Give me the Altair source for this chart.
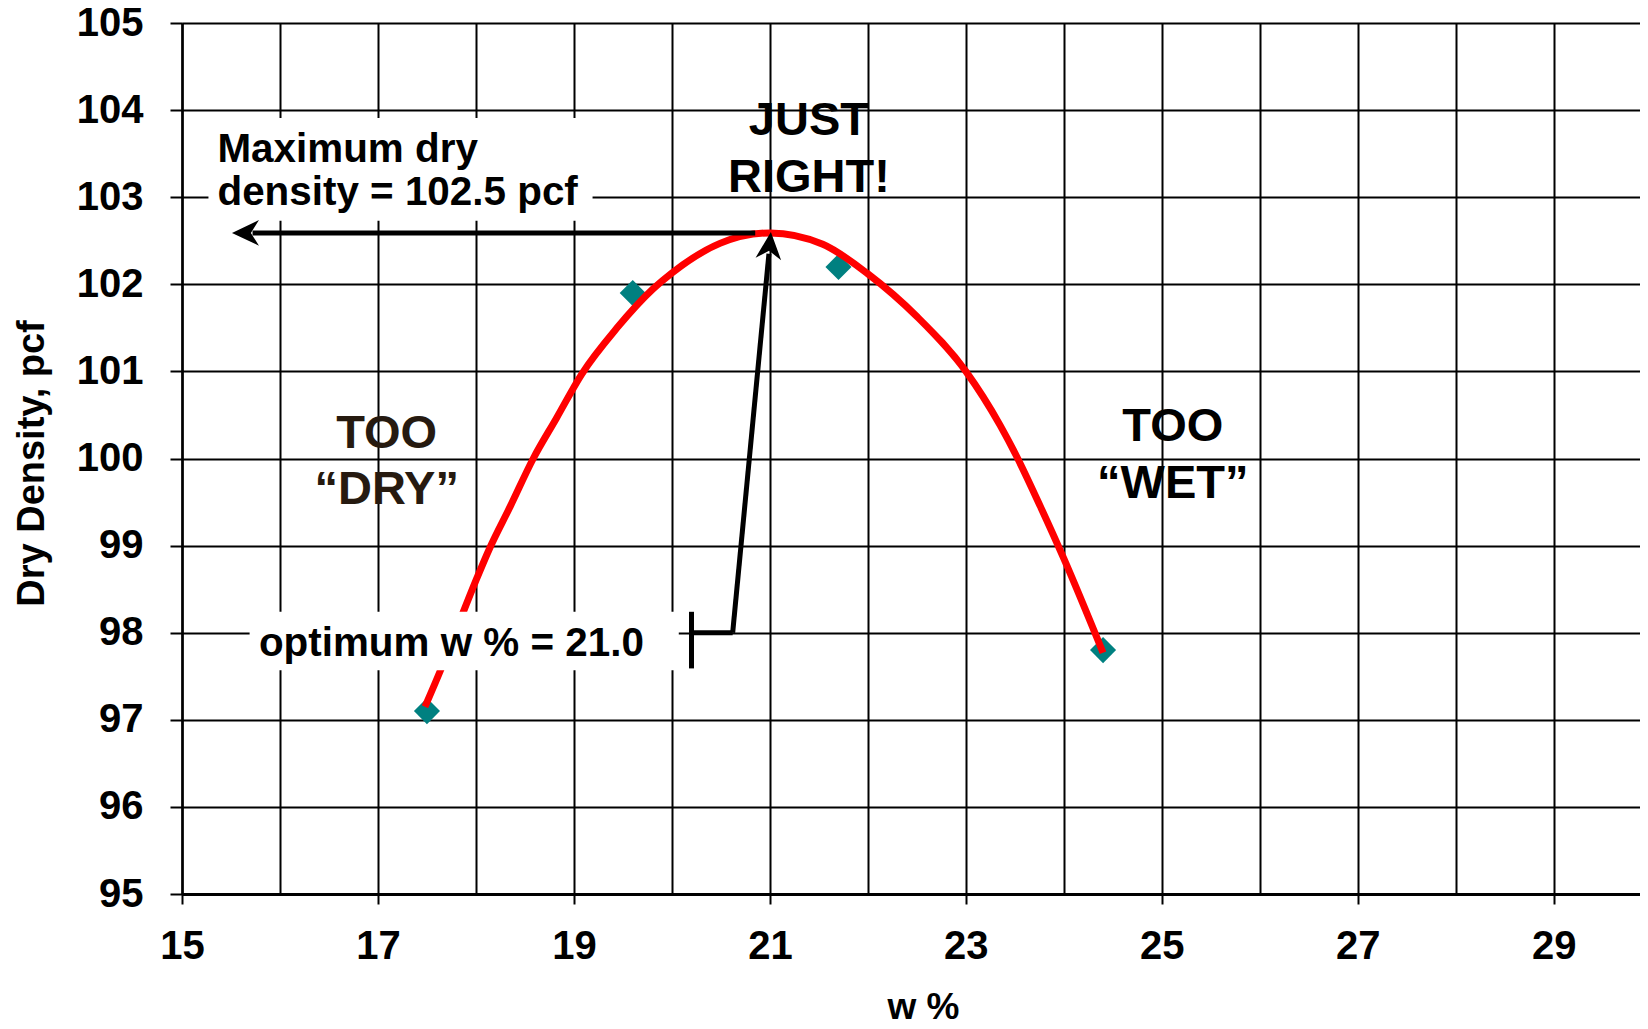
import altair as alt
import pandas as pd

FONT = "Liberation Sans"

# ---- axis values ----
x_grid_values = list(range(15, 30))
y_values = list(range(95, 106))
x_domain = [15, 29.88]
y_domain = [95, 105]

# ---- measured test points ----
point_w = [17.5, 19.6, 21.7, 24.4]
point_d = [97.1, 101.9, 102.2, 97.8]

# ---- compaction curve ----
curve_w = [17.48, 17.65, 17.84, 18.0, 18.14, 18.35, 18.585, 18.82, 19.08, 19.44,
           19.81, 20.0, 20.49, 21.0, 21.54, 22.0, 22.5, 23.0, 23.35, 23.52,
           23.76, 24.0, 24.4]
curve_d = [97.15, 97.6, 98.15, 98.6, 98.97, 99.45, 100.0, 100.46, 100.97, 101.5,
           101.95, 102.13, 102.47, 102.59, 102.46, 102.12, 101.63, 101.0, 100.38, 100.02,
           99.45, 98.85, 97.77]

# ---- white label boxes ----
box_w1 = [15.27, 15.69]
box_w2 = [19.19, 20.07]
box_d1 = [103.91, 98.24]
box_d2 = [102.73, 97.57]

# ---- arrow / bracket segments ----
seg_w1 = [20.85, 20.62, 20.20, 20.20]
seg_d1 = [102.59, 98.0, 98.0, 98.24]
seg_w2 = [15.72, 20.99, 20.62, 20.20]
seg_d2 = [102.59, 102.35, 98.0, 97.59]

# ---- arrow heads ----
head_w = [15.51, 21.01]
head_d = [102.59, 102.60]
head_angle = [0, 95.4]
HEAD_PATH = "M0,0L2,-0.95L1.4,0L2,0.95Z"

# ---- annotation texts ----
left_text = ["Maximum dry", "density = 102.5 pcf", "optimum w % = 21.0"]
left_w = [15.362, 15.362, 15.785]
left_d = [103.405, 102.911, 97.735]

big_text = ["JUST", "RIGHT!", "TOO", "\u201cWET\u201d"]
big_w = [21.398, 21.398, 25.112, 25.112]
big_d = [103.715, 103.064, 100.206, 99.552]

dry_text = ["TOO", "\u201cDRY\u201d"]
dry_w = [17.089, 17.089]
dry_d = [100.119, 99.479]


def X(field="w"):
    return alt.X(
        f"{field}:Q",
        scale=alt.Scale(domain=x_domain, nice=False, zero=False),
        axis=alt.Axis(
            values=x_grid_values,
            title="w %",
            grid=True,
            gridColor="black",
            gridWidth=2,
            tickColor={"condition": {"test": "datum.value % 2 == 0", "value": "transparent"},
                       "value": "black"},
            tickSize=10,
            tickWidth=2,
            labelExpr="datum.value % 2 == 1 ? datum.label : ''",
            labelFontSize=40,
            labelPadding=22,
            labelFlush=False,
            labelOverlap=False,
            domainColor="black",
            domainWidth=3,
            titleFontSize=37,
            titleX=741,
            titleY=124,
            titleBaseline="alphabetic",
        ),
    )


def Y(field="d"):
    return alt.Y(
        f"{field}:Q",
        scale=alt.Scale(domain=y_domain, nice=False, zero=False),
        axis=alt.Axis(
            values=y_values,
            title="Dry Density, pcf",
            grid=True,
            gridColor="black",
            gridWidth=2,
            tickColor="black",
            tickSize=12,
            tickWidth=2,
            labelFontSize=40,
            labelPadding=27,
            labelFlush=False,
            labelOverlap=False,
            domainColor="black",
            domainWidth=2.5,
            titleFontSize=38,
            titleAngle=270,
            titleX=-139,
            titleY=440,
            titleBaseline="alphabetic",
        ),
    )


pts = pd.DataFrame({"w": point_w, "d": point_d})
crv = pd.DataFrame({"w": curve_w, "d": curve_d, "o": list(range(len(curve_w)))})
boxes = pd.DataFrame({"w": box_w1, "w2": box_w2, "d": box_d1, "d2": box_d2})
segs = pd.DataFrame({"w": seg_w1, "w2": seg_w2, "d": seg_d1, "d2": seg_d2})
heads = pd.DataFrame({"w": head_w, "d": head_d, "a": head_angle})
ltxt = pd.DataFrame({"w": left_w, "d": left_d, "t": left_text})
btxt = pd.DataFrame({"w": big_w, "d": big_d, "t": big_text})
dtxt = pd.DataFrame({"w": dry_w, "d": dry_d, "t": dry_text})

points = alt.Chart(pts).mark_point(
    shape="diamond", filled=True, size=680, color="#008080", opacity=1
).encode(x=X(), y=Y())

curve = alt.Chart(crv).mark_line(
    color="#ff0000", strokeWidth=7, interpolate="monotone"
).encode(x=X(), y=Y(), order="o:Q")

box_layer = alt.Chart(boxes).mark_rect(color="white", opacity=1).encode(
    x=X(), x2="w2:Q", y=Y(), y2="d2:Q"
)

seg_layer = alt.Chart(segs).mark_rule(color="black", strokeWidth=5, strokeCap="butt").encode(
    x=X(), x2="w2:Q", y=Y(), y2="d2:Q"
)

head_layer = alt.Chart(heads).mark_point(
    shape=HEAD_PATH, filled=True, size=729, color="black", opacity=1
).encode(x=X(), y=Y(), angle=alt.Angle("a:Q", scale=None))

left_layer = alt.Chart(ltxt).mark_text(
    align="left", baseline="alphabetic", font=FONT, fontWeight="bold", fontSize=40.4, color="black"
).encode(x=X(), y=Y(), text="t:N")

big_layer = alt.Chart(btxt).mark_text(
    align="center", baseline="alphabetic", font=FONT, fontWeight="bold", fontSize=47, color="black"
).encode(x=X(), y=Y(), text="t:N")

dry_layer = alt.Chart(dtxt).mark_text(
    align="center", baseline="alphabetic", font=FONT, fontWeight="bold", fontSize=47, color="#261a10"
).encode(x=X(), y=Y(), text="t:N")

chart = alt.layer(
    points, curve, box_layer, seg_layer, head_layer, left_layer, big_layer, dry_layer
).properties(
    width=1458,
    height=871,
    autosize=alt.AutoSizeParams(type="none"),
    padding={"left": 174, "top": 15, "right": 0, "bottom": 135},
    background="white",
).configure_view(
    stroke=None
).configure_axis(
    labelFont=FONT,
    titleFont=FONT,
    labelFontWeight="bold",
    titleFontWeight="bold",
    labelColor="black",
    titleColor="black",
    gridOpacity=1,
)

chart.save("out.html", embed_options={"renderer": "svg", "actions": False})
